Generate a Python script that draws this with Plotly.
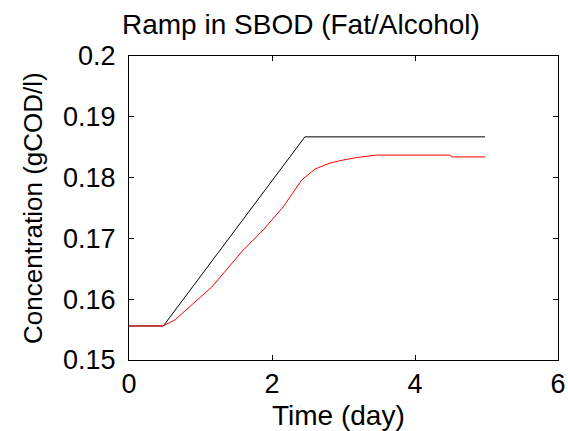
import plotly.graph_objects as go

# time (day) and concentration (gCOD/l)
t_input = [0, 0.48, 2.46, 4.98]
c_input = [0.1556, 0.1556, 0.1867, 0.1867]

t_output = [0, 0.475, 0.643, 1.157, 1.599, 1.878, 2.158, 2.415, 2.601, 2.811,
            2.997, 3.185, 3.464, 4.49, 4.51, 4.98]
c_output = [0.1556, 0.1556, 0.1566, 0.1620, 0.1681, 0.1714, 0.1752, 0.1796, 0.1814, 0.1824,
            0.1829, 0.1833, 0.1837, 0.1837, 0.1834, 0.1834]

x_ticks = [0, 2, 4, 6]
y_ticks = [0.15, 0.16, 0.17, 0.18, 0.19, 0.2]
y_labels = ["0.15", "0.16", "0.17", "0.18", "0.19", "0.2"]

FONT = "Liberation Sans, Arial"

fig = go.Figure()
fig.add_trace(go.Scatter(x=t_input, y=c_input, mode="lines",
                         line=dict(color="black", width=1), showlegend=False))
fig.add_trace(go.Scatter(x=t_output, y=c_output, mode="lines",
                         line=dict(color="#ff0000", width=1), showlegend=False))

axis_common = dict(
    showline=True, linecolor="black", linewidth=1, mirror="ticks",
    ticks="inside", ticklen=5, tickcolor="black",
    showgrid=False, zeroline=False, automargin=False,
    tickfont=dict(family=FONT, size=27, color="black"),
)

fig.update_layout(
    width=568, height=431,
    margin=dict(l=129, r=10, t=56, b=71),
    paper_bgcolor="white", plot_bgcolor="white",
    xaxis=dict(range=[0, 6], tickvals=x_ticks, ticklabelstandoff=0, **axis_common),
    yaxis=dict(range=[0.15, 0.2], tickvals=y_ticks, ticktext=y_labels,
               ticklabelstandoff=7, **axis_common),
)

# titles as annotations so they sit where the original has them
fig.add_annotation(text="Ramp in SBOD (Fat/Alcohol)", xref="paper", yref="paper",
                   x=0.401, y=1.105, xanchor="center", yanchor="middle", showarrow=False,
                   font=dict(family=FONT, size=28, color="black"))
fig.add_annotation(text="Time (day)", xref="paper", yref="paper",
                   x=0.488, y=-0.183, xanchor="center", yanchor="middle", showarrow=False,
                   font=dict(family=FONT, size=28, color="black"))
fig.add_annotation(text="Concentration (gCOD/l)", xref="paper", yref="paper",
                   x=-0.224, y=0.5, xanchor="center", yanchor="middle", showarrow=False,
                   textangle=-90, font=dict(family=FONT, size=26, color="black"))

# drop the default body margin so the figure fills the window exactly
fig.write_html("out.html", config={"displayModeBar": False},
               post_script="document.body.style.margin = '0';")
